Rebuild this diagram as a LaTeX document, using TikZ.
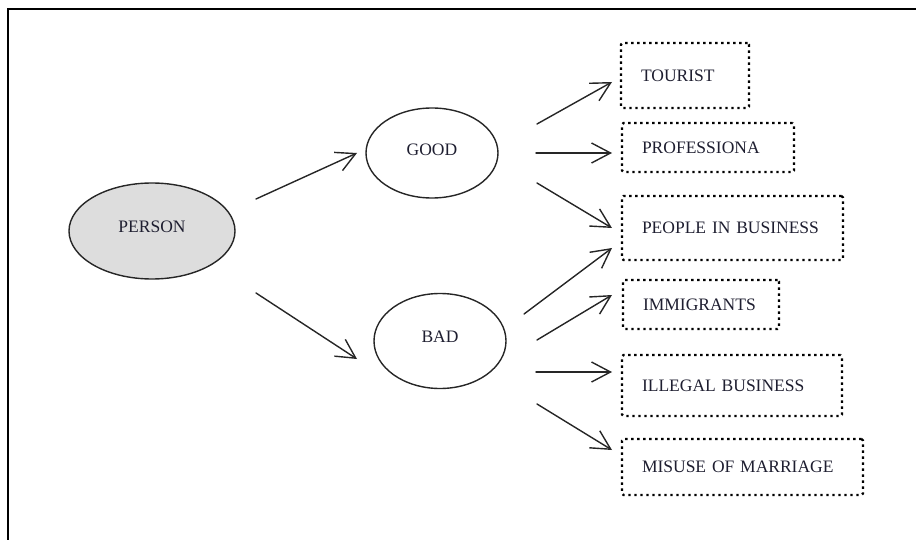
\documentclass[tikz,border=0pt]{standalone}
\usepackage{fontspec}
\setmainfont{Liberation Serif}
\usetikzlibrary{arrows.meta,shapes.geometric}
\definecolor{txt}{HTML}{1E1E30}
\definecolor{pfill}{HTML}{DDDDDD}
\begin{document}
\begin{tikzpicture}[x=1pt,y=-1pt,
  every node/.style={font=\fontsize{17.5}{20}\selectfont, text=txt, outer sep=0pt},
  oval/.style={draw=black!85, line width=1.4pt, ellipse, inner sep=0pt},
  dotbox/.style={draw=black, line width=2.4pt, dash pattern=on 2.4pt off 3.6pt,
     rounded corners=1.5pt, anchor=north west, align=left, inner xsep=20pt, inner ysep=0pt},
  arr/.style={draw=black!85, line width=1.4pt, line cap=round, line join=round,
     -{Straight Barb[length=19pt,width=20pt,line width=1.4pt]}},
  frame/.style={draw=black, line width=2.6pt}
]
\useasboundingbox (0,0) rectangle (916,540);
\draw[frame] (8,540) -- (8,9) -- (916,9);

\node[oval, fill=pfill, minimum width=166pt, minimum height=96pt] (person) at (152,231) {\raisebox{9pt}{PERSON}};
\node[oval, minimum width=132pt, minimum height=90pt] (good) at (432,153) {\raisebox{6pt}{GOOD}};
\node[oval, minimum width=132pt, minimum height=95pt] (bad) at (440,341) {\raisebox{8pt}{BAD}};

\node[dotbox, text width=88pt, minimum height=65pt] (tourist) at (621,43) {TOURIST};
\node[dotbox, text width=132pt, minimum height=49pt] (prof) at (622,123) {PROFESSIONA};
\node[dotbox, text width=181pt, minimum height=64pt] (people) at (622,196) {PEOPLE IN BUSINESS};
\node[dotbox, text width=116pt, minimum height=49pt] (immig) at (623,280) {IMMIGRANTS};
\node[dotbox, text width=180pt, minimum height=61pt] (illegal) at (622,355) {ILLEGAL BUSINESS};
\node[dotbox, text width=201pt, minimum height=56pt] (misuse) at (622,439) {MISUSE OF MARRIAGE};

\draw[arr] ([shift={(104,-32)}]person.center) -- ([shift={(-9,0)}]good.west);
\draw[arr] ([shift={(104,62)}]person.center) -- ([shift={(-17,18)}]bad.west);

\draw[arr] ([shift={(105,-29)}]good.center) -- ([shift={(-9,6.5)}]tourist.west);
\draw[arr] ([shift={(104,0)}]good.center) -- ([shift={(-10,5.5)}]prof.west);
\draw[arr] ([shift={(105,30)}]good.center) -- ([shift={(-10,0)}]people.west);

\draw[arr] ([shift={(84,-27)}]bad.center) -- ([shift={(-10,20)}]people.west);
\draw[arr] ([shift={(97,-1)}]bad.center) -- ([shift={(-11,-9.5)}]immig.west);
\draw[arr] ([shift={(96,31)}]bad.center) -- ([shift={(-10,-13.5)}]illegal.west);
\draw[arr] ([shift={(97,63)}]bad.center) -- ([shift={(-10,-17)}]misuse.west);
\end{tikzpicture}
\end{document}
